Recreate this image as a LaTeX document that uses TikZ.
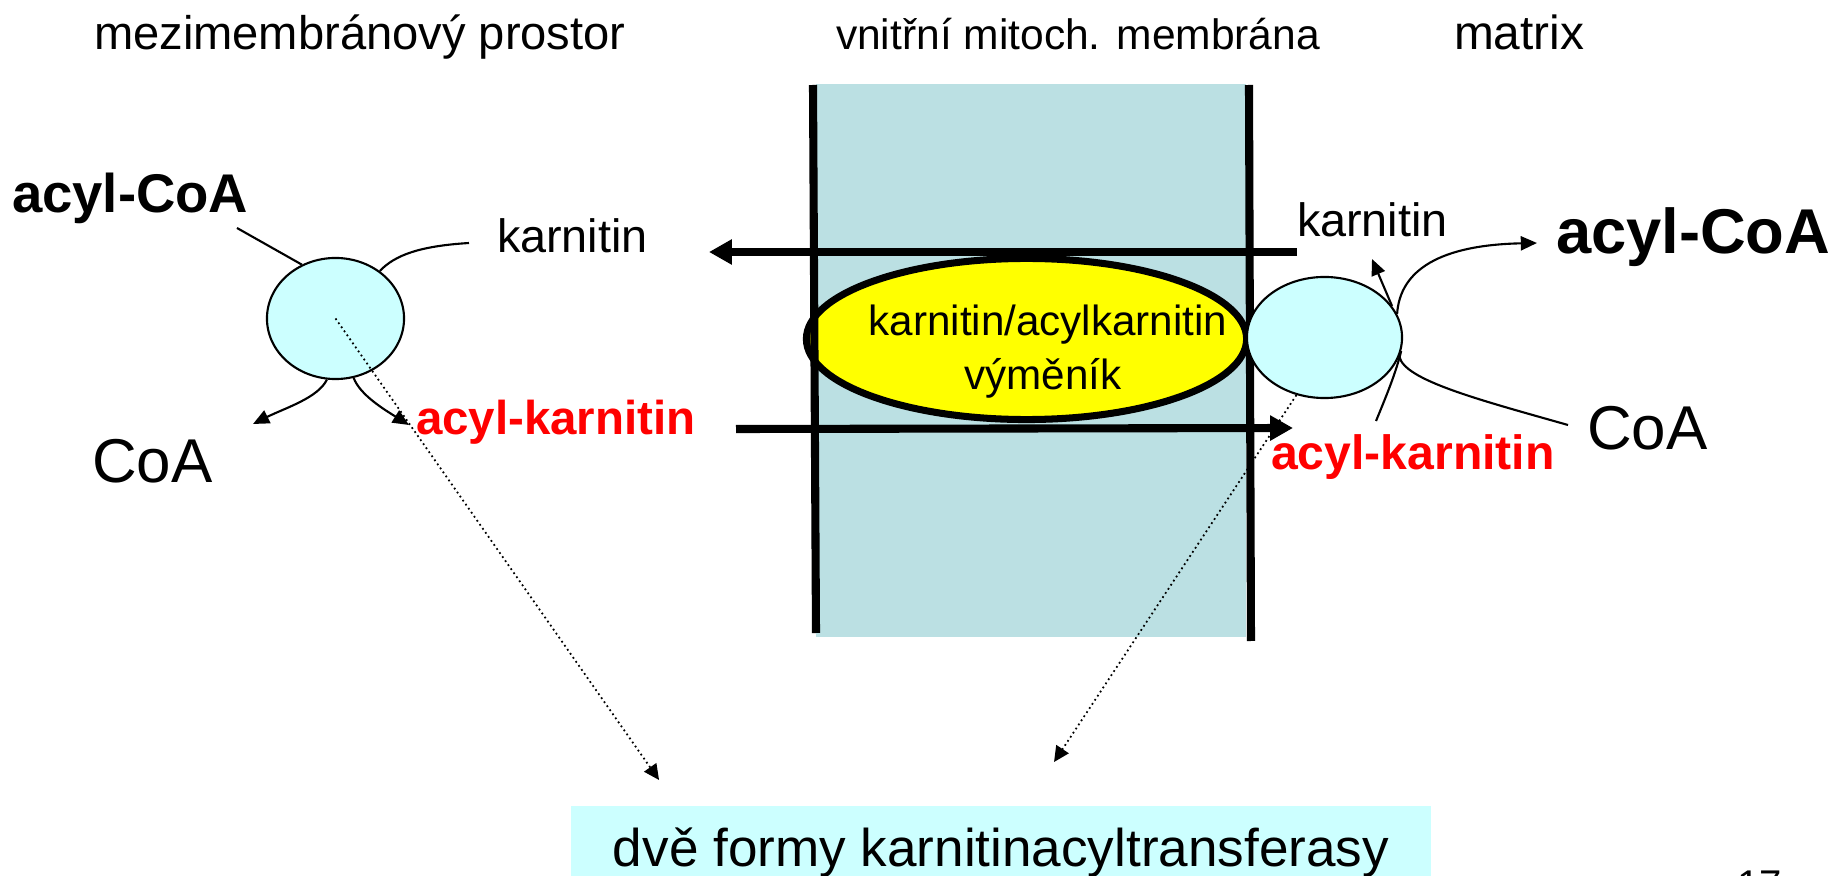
\documentclass[tikz,border=0pt]{standalone}
\usepackage{fontspec}
\setmainfont{Liberation Sans}
\usetikzlibrary{shapes.geometric,arrows.meta}
\definecolor{membr}{HTML}{BBE0E3}
\definecolor{enzcyan}{HTML}{CCFFFF}
\definecolor{exyellow}{HTML}{FFFF00}
\definecolor{acred}{HTML}{FF0000}

\begin{document}
\begin{tikzpicture}[x=0.01cm,y=-0.01cm,
  lbl/.style={inner sep=0pt,outer sep=0pt,anchor=base west},
  heading/.style={lbl,font=\fontsize{13.4}{16}\selectfont},
  small/.style={lbl,font=\fontsize{13.3}{16}\selectfont},
  big/.style={lbl,font=\fontsize{17.5}{21}\selectfont},
  boldlbl/.style={lbl,font=\bfseries\fontsize{#1}{#1}\selectfont},
  redlbl/.style={boldlbl=#1,text=acred},
  enz/.style={ellipse,draw,line width=0.6pt,fill=enzcyan,inner sep=0pt},
  conn/.style={line width=0.6pt},
  connarr/.style={conn,-{Triangle[length=4.6pt,width=4pt]}},
  transport/.style={line width=2.3pt,-{Triangle[length=6.5pt,width=6.8pt]}},
  pointer/.style={line width=0.5pt,dash pattern=on 0.5pt off 0.9pt,
    -{Triangle[length=4.4pt,width=4.2pt]}},
  memline/.style={line width=2.3pt},
]
\useasboundingbox (0,0) rectangle (1847,876);

% headings of the three compartments
\node[heading] (ims) at (94,50) {mezimembránový prostor};
\node[lbl,font=\fontsize{12.1}{14}\selectfont] (imm) at (836,50) {vnitřní mitoch. membrána};
\node[heading,font=\fontsize{13.6}{16}\selectfont] (mtx) at (1454,50) {matrix};

% inner mitochondrial membrane
\fill[membr] (816,84) rectangle (1246,637);

% carnitine/acylcarnitine exchanger
\node[ellipse,draw,line width=2pt,fill=exyellow,inner sep=0pt,
      minimum width=4.40cm,minimum height=1.61cm] (exch) at (1026.5,339) {};
\node[inner sep=0pt,anchor=base,font=\fontsize{12}{14}\selectfont] (exchA) at (1048,336) {karnitin/acylkarnitin};
\node[inner sep=0pt,anchor=base,font=\fontsize{12}{14}\selectfont] (exchB) at (1043,390) {výměník};

% membrane borders
\draw[memline] (813,85) -- (816,633);
\draw[memline] (1249,85) -- (1251,641);

% labels, intermembrane side
\node[boldlbl=15.5] (acoaL) at (12,213) {acyl-CoA};
\node[small] (karL) at (497,253) {karnitin};
\node[big,font=\fontsize{17.6}{21}\selectfont] (coaL) at (92,482) {CoA};
\node[redlbl=13.5] (akL) at (416,435) {acyl-karnitin};

% labels, matrix side
\node[small] (karR) at (1297,237) {karnitin};
\node[boldlbl=18] (acoaR) at (1556,254) {acyl-CoA};
\node[big,font=\fontsize{17.6}{21}\selectfont] (coaR) at (1587,450) {CoA};
\node[redlbl=13.7] (akR) at (1271,470) {acyl-karnitin};

% transport across the membrane
\draw[transport] ([shift={(0,15)}]karR.base west) -- ([shift={(212,-1)}]karL.base west);
\draw[transport] ([shift={(320,-6)}]akL.base west) -- ([shift={(22,-42)}]akR.base west);

% the two carnitine acyltransferases
\node[enz,minimum width=1.37cm,minimum height=1.21cm] (lE) at (335.5,318.5) {};
\node[enz,minimum width=1.55cm,minimum height=1.21cm] (rE) at (1324.5,337.5) {};

% enzyme name box
\node[fill=enzcyan,minimum width=8.6cm,minimum height=0.94cm,inner sep=0pt,anchor=north,
      font=\fontsize{15.1}{18}\selectfont] (dbox) at (1001,805) {dvě formy karnitinacyltransferasy};

% page number
\node[lbl,font=\fontsize{11.4}{13}\selectfont] (pgno) at (1737,898) {17};

% reaction on the intermembrane side
\draw[conn] ([shift={(225,15)}]acoaL.base west) -- (lE.122);
\draw[conn] (lE.47) .. controls (395,255) and (420,246) .. ([shift={(-28,-10)}]karL.base west);
\draw[connarr] (lE.262) .. controls (318,398) and (285,408) .. ([shift={(161,-58)}]coaL.base west);
\draw[connarr] (lE.287) .. controls (360,395) and (385,410) .. ([shift={(-7,-10)}]akL.base west);

% reaction on the matrix side
\draw[conn] ([shift={(105,-49)}]akR.base west) .. controls (1388,392) and (1396,372) .. (rE.-10);
\draw[connarr] (rE.25) -- ([shift={(75,22)}]karR.base west);
\draw[connarr] (rE.18) .. controls (1400,270) and (1440,245) .. ([shift={(-19,-11)}]acoaR.base west);
\draw[conn] (rE.-14) .. controls (1403,380) and (1480,400) .. ([shift={(-19,-25)}]coaR.base west);

% pointers to the enzyme name
\draw[pointer] (lE.center) -- ([shift={(89,-25)}]dbox.north west);
\draw[pointer] (rE.244) -- ([shift={(484,-43)}]dbox.north west);
\end{tikzpicture}
\end{document}
